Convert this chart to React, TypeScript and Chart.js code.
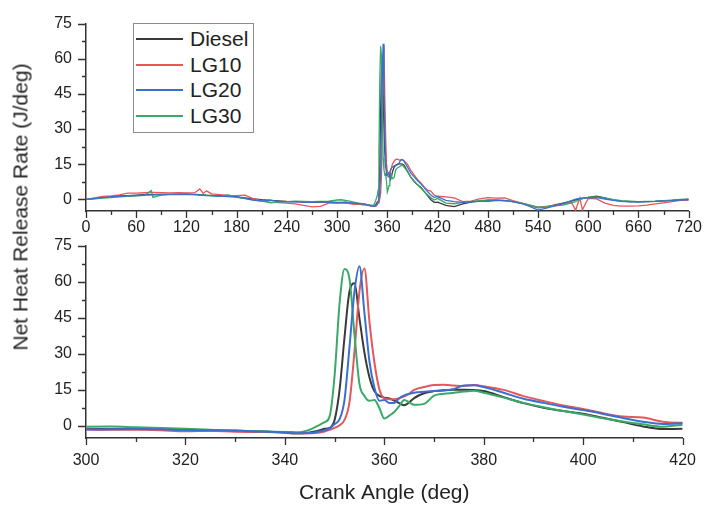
import React, { useEffect, useRef } from 'react';
import { Chart, registerables } from 'chart.js';

Chart.register(...registerables);

const FONT = '"Liberation Sans", Arial, Helvetica, sans-serif';

// Crank angle grid (deg)
const angles = [
  0, 10, 20, 30, 40, 50, 60, 70, 78, 80, 90, 100, 110, 120, 130, 136, 140, 144, 150, 160, 170, 180, 190, 200, 210, 220, 230, 240, 250, 260, 270, 280, 290,
  300, 305, 310, 315, 320, 325, 330, 335, 340,
  341, 342, 343, 344, 345, 346, 347, 348, 349, 350, 351, 352, 353, 354, 355, 356, 357, 358, 359, 360, 361, 362, 363, 364, 365, 366,
  368, 370, 372, 374, 376, 378, 380, 384, 388, 392, 396, 400, 404, 408, 412, 416, 420,
  430, 440, 450, 460, 470, 480, 490, 500, 510, 520, 530, 540, 550, 560, 570, 580, 585, 590, 593, 600, 610, 620, 630, 640, 650, 660, 670, 680, 690, 700, 710, 720,
];

// Net heat release rate (J/deg)
const diesel = [
  0, 0.4, 0.8, 1.1, 1.4, 1.6, 1.8, 2.0, 2.0, 2.0, 2.1, 2.1, 2.2, 2.2, 2.1, 2.0, 1.9, 1.8, 1.7, 1.5, 1.3, 1.0, 0.6, 0.2, -0.2, -0.5, -0.7, -0.9, -1.0, -1.2, -1.3, -1.2, -1.1,
  -1.3, -1.3, -1.2, -1.5, -1.7, -1.9, -2.0, -2.3, -2.7,
  -2.9, -3.0, -3.0, -2.9, -2.7, -2.3, -1.8, -1.2, -0.8, 2.5, 15, 37, 56, 59.3, 44.7, 30.5, 20.3, 14.5, 12.5, 11.8, 11.4, 10.6, 9.5, 8.6, 9.8, 11.6,
  13.6, 14.5, 14.9, 15.1, 15.1, 15.0, 14.5, 12.0, 9.5, 7.6, 6.2, 5.1, 3.4, 1.6, -0.2, -1.3, -1.2,
  -2.6, -3.1, -2.0, -1.2, -0.8, -0.5, -0.4, -0.6, -1.0, -1.6, -2.6, -3.6, -3.2, -2.4, -1.6, -0.8, -0.3, 0.1, 0.3, 0.8, 1.3, 0.6, -0.3, -0.8, -1.0, -1.1, -1.0, -0.9, -0.7, -0.5, -0.3, -0.1,
];

const lg10 = [
  0, 0.6, 1.2, 1.5, 1.9, 2.6, 2.6, 2.8, 2.9, 2.9, 2.8, 2.7, 2.8, 2.7, 2.8, 4.4, 2.5, 3.6, 2.3, 2.0, 1.7, 1.6, 1.8, 0.2, -0.6, -1.2, -1.4, -1.6, -2.0, -2.6, -3.2, -3.0, -1.6,
  -1.5, -1.6, -1.6, -1.8, -2.2, -2.0, -2.4, -2.5, -2.8,
  -3.0, -3.0, -3.0, -3.0, -3.0, -2.9, -2.7, -2.3, -1.6, -0.8, 0.3, 2.5, 10, 31, 56, 65.5, 43.5, 26.5, 15.3, 11.5, 11.1, 11.1, 11.5, 12.3, 13.5, 15.0,
  16.2, 17.0, 17.1, 16.8, 16.6, 17.0, 16.5, 15.0, 12.4, 10.4, 8.5, 7.1, 5.3, 3.9, 3.5, 1.8, 1.3,
  1.0, 0.6, -1.0, -0.8, 0.2, 0.7, 0.5, 0.6, -0.6, -1.5, -2.6, -3.4, -3.0, -2.6, -2.0, -1.4, -4.6, 0.6, -4.5, 0.4, 0.2, -1.6, -2.6, -2.9, -2.9, -2.8, -2.5, -2.0, -1.5, -1.0, -0.5, -0.3,
];

const lg20 = [
  0, 0.3, 0.7, 1.0, 1.3, 1.5, 1.6, 1.8, 1.9, 1.9, 2.0, 2.1, 2.1, 2.2, 2.0, 1.8, 1.7, 1.6, 1.6, 1.4, 1.2, 1.0, 0.4, -0.3, -0.8, -0.3, -1.0, -1.1, -1.0, -1.2, -1.3, -1.0, -1.2,
  -1.5, -1.4, -1.3, -1.4, -1.7, -1.8, -1.9, -2.3, -2.7,
  -2.9, -3.0, -3.0, -3.0, -2.9, -2.7, -2.3, -1.8, -1.0, 0.8, 2.8, 11, 33, 56, 66.4, 47, 27, 16, 10.5, 10.8, 9.6, 9.6, 11.5, 12.7, 13.3, 13.8,
  14.2, 14.5, 14.8, 15.4, 16.8, 16.9, 16.2, 13.8, 11.3, 9.6, 8.0, 6.6, 5.0, 3.3, 1.8, 0.8, 1.1,
  -0.5, -1.0, -1.3, -1.0, -0.9, -0.9, -0.6, -0.5, -1.0, -1.8, -3.0, -4.6, -3.8, -2.8, -1.8, -0.6, 0.1, 0.4, 0.6, 0.6, 0.7, 0.1, -0.5, -0.9, -1.1, -1.1, -1.0, -0.9, -0.7, -0.6, -0.3, -0.1,
];

const lg30 = [
  0, 0.2, 0.5, 0.7, 1.0, 1.3, 1.5, 1.7, 3.7, 0.8, 1.8, 2.0, 2.0, 2.1, 2.0, 1.9, 1.9, 1.7, 1.5, 1.3, 1.9, 0.8, 0.3, -0.4, -0.7, -1.5, -1.2, -1.0, -0.8, -0.9, -1.0, -0.9, -0.8,
  -0.3, -0.2, -0.5, -0.8, -1.2, -1.6, -2.0, -2.2, -2.5,
  -2.5, -2.6, -2.6, -2.2, -1.5, -0.6, 0.5, 1.6, 4.0, 21, 51, 65.3, 61, 38, 17.5, 12.5, 10.5, 10.8, 7.5, 3.1, 4.3, 5.8, 8.3, 10.8, 9.8, 8.8,
  9.2, 12.6, 13.4, 13.8, 14.3, 14.6, 13.8, 11.8, 9.6, 7.8, 6.2, 4.8, 3.2, 1.9, 0.7, -0.3, 0.4,
  -1.6, -1.9, -1.3, -1.0, -0.6, -0.3, -0.3, -0.6, -1.0, -1.6, -2.4, -3.4, -3.2, -2.8, -2.5, -1.5, -1.0, -0.2, 0.3, 0.8, 1.0, 0.5, -0.2, -0.6, -0.8, -1.0, -0.9, -0.8, -0.6, -0.4, -0.1, 0.2,
];

const seriesNames = ['Diesel', 'LG10', 'LG20', 'LG30'];
const seriesValues = [diesel, lg10, lg20, lg30];
const seriesColors = ['#3a3a3a', '#e4575a', '#3a6fd2', '#3aa867'];
// drawing order (lower = drawn on top)
const seriesOrder = [4, 3, 1, 2];

const yTicks = [0, 15, 30, 45, 60, 75];
const xTicksFull = [0, 60, 120, 180, 240, 300, 360, 420, 480, 540, 600, 660, 720];
const xTicksZoom = [300, 320, 340, 360, 380, 400, 420];

const AXIS_COLOR = '#333333';
const TEXT_COLOR = '#222222';

const axisTicks = {
  id: 'axisTicks',
  afterDraw(chart: any, _args: any, opts: any) {
    const { ctx, chartArea } = chart;
    const xs = chart.scales.x;
    const ys = chart.scales.y;
    const mids = (arr: number[]) => {
      const out: number[] = [];
      for (let i = 0; i < arr.length - 1; i++) out.push((arr[i] + arr[i + 1]) / 2);
      return out;
    };
    ctx.save();
    ctx.strokeStyle = AXIS_COLOR;
    ctx.lineWidth = 1.3;
    ctx.beginPath();
    const xTick = (v: number, len: number) => {
      const p = Math.round(xs.getPixelForValue(v)) + 0.5;
      ctx.moveTo(p, chartArea.bottom);
      ctx.lineTo(p, chartArea.bottom + len);
    };
    const yTick = (v: number, len: number) => {
      const p = Math.round(ys.getPixelForValue(v)) + 0.5;
      ctx.moveTo(chartArea.left, p);
      ctx.lineTo(chartArea.left - len, p);
    };
    opts.x.forEach((v: number) => xTick(v, 7));
    mids(opts.x).forEach((v: number) => xTick(v, 4));
    opts.y.forEach((v: number) => yTick(v, 8));
    mids(opts.y).forEach((v: number) => yTick(v, 4));
    ctx.stroke();
    ctx.restore();
  },
};

function buildConfig(zoom: boolean) {
  const xTicks = zoom ? xTicksZoom : xTicksFull;
  return {
    type: 'line' as const,
    data: {
      datasets: seriesNames.map((name, i) => ({
        label: name,
        data: angles.map((a, j) => ({ x: a, y: seriesValues[i][j] })),
        borderColor: seriesColors[i],
        backgroundColor: seriesColors[i],
        borderWidth: zoom ? 2 : 1.3,
        pointRadius: 0,
        fill: false,
        order: seriesOrder[i],
        tension: zoom ? 0.4 : 0,
        cubicInterpolationMode: zoom ? ('monotone' as const) : ('default' as const),
      })),
    },
    options: {
      responsive: false,
      animation: false as const,
      events: [] as any[],
      layout: { padding: { left: 0, right: 17, top: zoom ? 17 : 15, bottom: 0 } },
      plugins: {
        legend: { display: false },
        tooltip: { enabled: false },
        axisTicks: { x: xTicks, y: yTicks },
      },
      scales: {
        x: {
          type: 'linear' as const,
          min: xTicks[0],
          max: xTicks[xTicks.length - 1],
          afterBuildTicks: (s: any) => {
            s.ticks = xTicks.map((v) => ({ value: v }));
          },
          afterFit: (s: any) => {
            s.height = zoom ? 70 : 39;
          },
          grid: { display: true, drawOnChartArea: false, drawTicks: false },
          border: { display: true, color: AXIS_COLOR, width: 1.5 },
          ticks: {
            padding: zoom ? 13 : 7,
            color: TEXT_COLOR,
            font: { family: FONT, size: 16 },
            maxRotation: 0,
            autoSkip: false,
          },
          title: zoom
            ? {
                display: true,
                text: 'Crank Angle (deg)',
                color: TEXT_COLOR,
                font: { family: FONT, size: 21 },
                padding: { top: 0, bottom: 2 },
              }
            : { display: false },
        },
        y: {
          type: 'linear' as const,
          min: -5,
          max: 75,
          afterBuildTicks: (s: any) => {
            s.ticks = yTicks.map((v) => ({ value: v }));
          },
          afterFit: (s: any) => {
            s.width = 86;
          },
          grid: { display: true, drawOnChartArea: false, drawTicks: false },
          border: { display: true, color: AXIS_COLOR, width: 1.5 },
          ticks: {
            padding: 14,
            color: TEXT_COLOR,
            font: { family: FONT, size: 16 },
            autoSkip: false,
          },
        },
      },
    },
    plugins: [axisTicks],
  };
}

function ChartCanvas({ zoom, top, height }: { zoom: boolean; top: number; height: number }) {
  const ref = useRef<HTMLCanvasElement | null>(null);
  useEffect(() => {
    if (!ref.current) return;
    const chart = new Chart(ref.current, buildConfig(zoom) as any);
    return () => chart.destroy();
  }, [zoom]);
  return (
    <canvas
      ref={ref}
      width={709}
      height={height}
      style={{ position: 'absolute', left: 0, top, width: 709, height, display: 'block' }}
    />
  );
}

export default function App() {
  const legendTop = 39;
  const legendStep = 25.7;
  return (
    <div
      style={{
        position: 'fixed',
        left: 0,
        top: 0,
        width: 709,
        height: 508,
        background: '#ffffff',
        overflow: 'hidden',
        fontFamily: FONT,
      }}
    >
      <ChartCanvas zoom={false} top={0} height={250} />
      <ChartCanvas zoom={true} top={222} height={286} />
      <div
        style={{
          position: 'absolute',
          left: 20,
          top: 207,
          transform: 'translate(-50%, -50%) rotate(-90deg)',
          whiteSpace: 'nowrap',
          fontSize: 21,
          color: TEXT_COLOR,
          lineHeight: 1,
        }}
      >
        Net Heat Release Rate (J/deg)
      </div>
      <div
        style={{
          position: 'absolute',
          left: 133,
          top: 23,
          width: 121,
          height: 110,
          boxSizing: 'border-box',
          border: '1px solid #8c8c8c',
          background: '#ffffff',
        }}
      />
      {seriesNames.map((name, i) => {
        const cy = Math.round(legendTop + i * legendStep);
        return (
          <React.Fragment key={name}>
            <div
              style={{
                position: 'absolute',
                left: 136,
                top: cy - 1,
                width: 47,
                height: 2,
                background: seriesColors[i],
              }}
            />
            <div
              style={{
                position: 'absolute',
                left: 190,
                top: cy - 12,
                height: 24,
                lineHeight: '24px',
                fontSize: 21,
                color: TEXT_COLOR,
                whiteSpace: 'nowrap',
              }}
            >
              {name}
            </div>
          </React.Fragment>
        );
      })}
    </div>
  );
}
